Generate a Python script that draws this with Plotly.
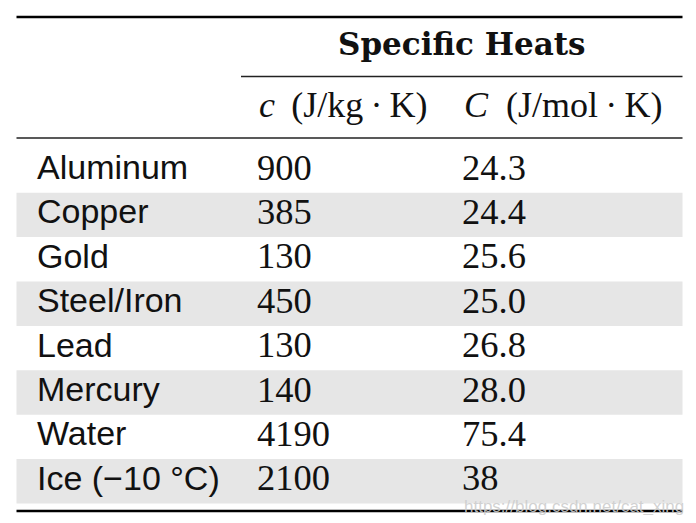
import plotly.graph_objects as go

materials = ["Aluminum", "Copper", "Gold", "Steel/Iron", "Lead", "Mercury", "Water", "Ice (\u221210 \u00b0C)"]
c_specific = ["900", "385", "130", "450", "130", "140", "4190", "2100"]
C_molar = ["24.3", "24.4", "25.6", "25.0", "26.8", "28.0", "75.4", "38"]
group_title = "Specific Heats"
col_headers = ["<i>c</i>\u2009 (J/kg\u2009\u00b7\u2009K)", "<i>C</i>\u00a0 (J/mol\u2009\u00b7\u2009K)"]
watermark = "https://blog.csdn.net/cat_xing"

W, H = 696, 523
OFF = 8  # page body margin; figure placed at (8, 8) in the window
ROW0, ROWH = 170.5, 44.4
X_LABEL, X_C, X_CM = 37, 257, 462
LEFT, RIGHT = 16.5, 682.5

row_y = [ROW0 + ROWH * i for i in range(len(materials))]

SANS = "Liberation Sans"
SERIF = "Liberation Serif"

fig = go.Figure()

shapes = []
for i, y in enumerate(row_y):
    if i % 2 == 1:
        shapes.append(dict(type="rect", xref="x", yref="y", x0=LEFT, x1=RIGHT,
                           y0=y - ROWH / 2, y1=y + ROWH / 2,
                           fillcolor="#e6e6e6", line=dict(width=0), layer="below"))

shapes.append(dict(type="line", xref="x", yref="y", x0=LEFT, x1=RIGHT, y0=17, y1=17,
                   line=dict(color="black", width=2.4)))
shapes.append(dict(type="line", xref="x", yref="y", x0=241, x1=RIGHT, y0=76.5, y1=76.5,
                   line=dict(color="#222", width=1.4)))
shapes.append(dict(type="line", xref="x", yref="y", x0=LEFT, x1=RIGHT, y0=138, y1=138,
                   line=dict(color="#222", width=1.4)))
shapes.append(dict(type="line", xref="x", yref="y", x0=LEFT, x1=RIGHT, y0=511, y1=511,
                   line=dict(color="black", width=2.6)))

fig.add_trace(go.Scatter(x=[X_LABEL] * len(materials), y=row_y, text=materials,
                         mode="text", textposition="middle right",
                         textfont=dict(family=SANS, size=34, color="#111"),
                         hoverinfo="skip", showlegend=False))
fig.add_trace(go.Scatter(x=[X_C] * len(c_specific), y=row_y, text=c_specific,
                         mode="text", textposition="middle right",
                         textfont=dict(family=SERIF, size=36.5, color="#111"),
                         hoverinfo="skip", showlegend=False))
fig.add_trace(go.Scatter(x=[X_CM] * len(C_molar), y=row_y, text=C_molar,
                         mode="text", textposition="middle right",
                         textfont=dict(family=SERIF, size=36.5, color="#111"),
                         hoverinfo="skip", showlegend=False))

annotations = [
    dict(x=462, y=44, xref="x", yref="y", text="<b>" + group_title + "</b>", showarrow=False,
         font=dict(family="DejaVu Serif", size=31, color="#111"), xanchor="center", yanchor="middle"),
    dict(x=X_C, y=105, xref="x", yref="y", text=col_headers[0], showarrow=False,
         font=dict(family=SERIF, size=36, color="#111"), xanchor="left", yanchor="middle"),
    dict(x=X_CM, y=105, xref="x", yref="y", text=col_headers[1], showarrow=False,
         font=dict(family=SERIF, size=36, color="#111"), xanchor="left", yanchor="middle"),
    dict(x=686, y=506, xref="x", yref="y", text=watermark, showarrow=False,
         font=dict(family=SANS, size=17, color="rgba(205,205,205,0.9)"), xanchor="right", yanchor="middle"),
]

fig.update_layout(
    width=W - 2 * OFF, height=H - 2 * OFF, margin=dict(l=0, r=0, t=0, b=0),
    paper_bgcolor="white", plot_bgcolor="white",
    xaxis=dict(range=[OFF, W - OFF], visible=False, fixedrange=True),
    yaxis=dict(range=[H - OFF, OFF], visible=False, fixedrange=True),
    shapes=shapes, annotations=annotations,
)

fig.write_html("out.html")
